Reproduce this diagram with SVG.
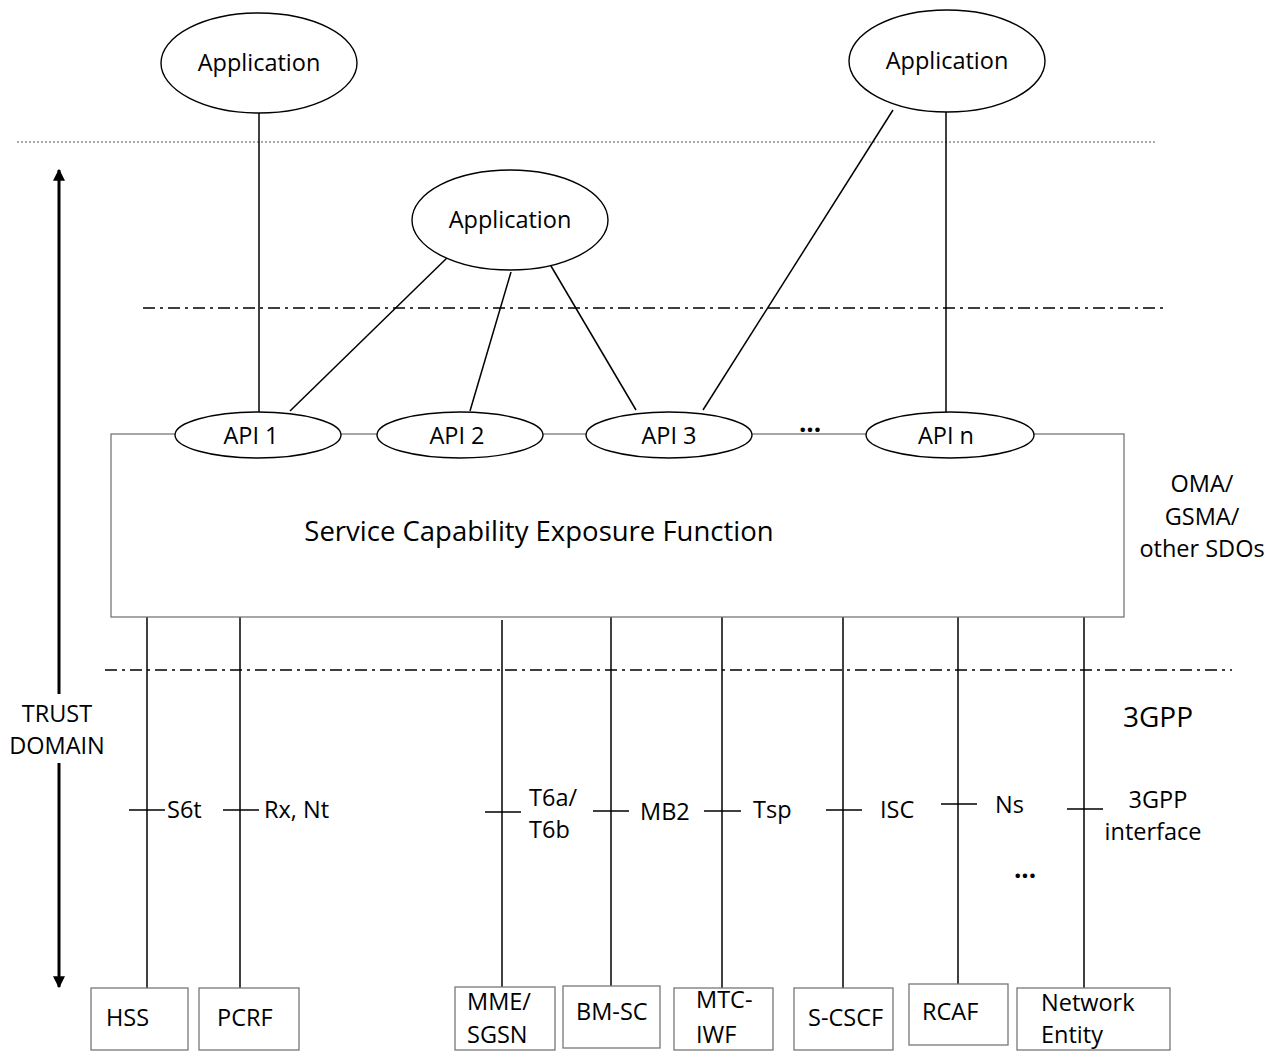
<svg xmlns="http://www.w3.org/2000/svg" width="1277" height="1053" viewBox="0 0 1277 1053">
<defs>
<style>
text{font-family:"Open Sans","Noto Sans",sans-serif;fill:#000}
.t22{font-size:23.5px}
.t21{font-size:23.5px}
.dots{font-size:26px;font-weight:bold}
.app{fill:#fff;stroke:#000;stroke-width:1.4}
.box{fill:#fff;stroke:#777;stroke-width:1.3}
.ln{stroke:#000;stroke-width:1.5;fill:none}
.dd{stroke:#000;stroke-width:1.6;stroke-dasharray:12 5 3 5;fill:none}
</style>
<marker id="ah" viewBox="0 0 10 10" refX="9" refY="5" markerWidth="4" markerHeight="4" orient="auto-start-reverse" markerUnits="strokeWidth">
<path d="M0,0 L10,5 L0,10 Z" fill="#000"/>
</marker>
</defs>
<rect width="1277" height="1053" fill="#fff"/>

<g id="boundaries">
<line x1="17" y1="142" x2="1155" y2="142" stroke="#555" stroke-width="1" stroke-dasharray="2 2"/>
<line class="dd" x1="143" y1="308" x2="1167" y2="308"/>
<line class="dd" x1="105" y1="670" x2="1232" y2="670"/>
</g>

<g id="trust-domain">
<line x1="59" y1="170" x2="59" y2="694" stroke="#000" stroke-width="3" marker-start="url(#ah)"/>
<line x1="59" y1="763" x2="59" y2="987" stroke="#000" stroke-width="3" marker-end="url(#ah)"/>
<text class="t21" x="57" y="722" text-anchor="middle">TRUST</text>
<text class="t21" x="57" y="754" text-anchor="middle">DOMAIN</text>
</g>

<g id="connectors">
<line class="ln" x1="259" y1="113" x2="259" y2="413"/>
<line class="ln" x1="450" y1="255" x2="290" y2="411"/>
<line class="ln" x1="511" y1="272" x2="470" y2="411"/>
<line class="ln" x1="551" y1="266" x2="636" y2="410"/>
<line class="ln" x1="893" y1="110" x2="703" y2="410"/>
<line class="ln" x1="946" y1="112" x2="946" y2="413"/>
<line class="ln" x1="147" y1="617" x2="147" y2="988"/>
<line class="ln" x1="240" y1="617" x2="240" y2="988"/>
<line class="ln" x1="502" y1="620" x2="502" y2="987"/>
<line class="ln" x1="611" y1="617" x2="611" y2="986"/>
<line class="ln" x1="722" y1="617" x2="722" y2="988"/>
<line class="ln" x1="843" y1="617" x2="843" y2="988"/>
<line class="ln" x1="958" y1="612" x2="958" y2="984"/>
<line class="ln" x1="1084" y1="617" x2="1084" y2="988"/>
<line class="ln" x1="129" y1="810" x2="165" y2="810"/>
<line class="ln" x1="223" y1="810" x2="259" y2="810"/>
<line class="ln" x1="485" y1="812" x2="521" y2="812"/>
<line class="ln" x1="593" y1="811" x2="629" y2="811"/>
<line class="ln" x1="704" y1="811" x2="741" y2="811"/>
<line class="ln" x1="826" y1="810" x2="862" y2="810"/>
<line class="ln" x1="941" y1="804" x2="977" y2="804"/>
<line class="ln" x1="1067" y1="809" x2="1103" y2="809"/>
</g>

<g id="interface-labels">
<text class="t21" x="167" y="818">S6t</text>
<text class="t21" x="264" y="818">Rx, Nt</text>
<text class="t21" x="529" y="806">T6a/</text>
<text class="t21" x="529" y="838">T6b</text>
<text class="t21" x="640" y="820">MB2</text>
<text class="t21" x="753" y="818">Tsp</text>
<text class="t21" x="880" y="818">ISC</text>
<text class="t21" x="995" y="813">Ns</text>
<text class="t21" x="1158" y="808" text-anchor="middle">3GPP</text>
<text class="t21" x="1153" y="840" text-anchor="middle">interface</text>
<text class="dots" x="1025" y="878" text-anchor="middle">...</text>
</g>

<g id="app1">
<ellipse class="app" cx="259" cy="63" rx="98" ry="50"/>
<text class="t22" x="259" y="71" text-anchor="middle">Application</text>
</g>
<g id="app2">
<ellipse class="app" cx="510" cy="220" rx="98" ry="50"/>
<text class="t22" x="510" y="228" text-anchor="middle">Application</text>
</g>
<g id="app3">
<ellipse class="app" cx="947" cy="61" rx="98" ry="51"/>
<text class="t22" x="947" y="69" text-anchor="middle">Application</text>
</g>

<g id="scef">
<rect class="box" x="111" y="434" width="1013" height="183"/>
<text x="539" y="541" font-size="27.5" text-anchor="middle">Service Capability Exposure Function</text>
<text class="dots" x="810" y="432" text-anchor="middle">...</text>
</g>
<g id="api1">
<ellipse class="app" cx="258" cy="435" rx="83" ry="23"/>
<text class="t21" x="251" y="444" text-anchor="middle">API 1</text>
</g>
<g id="api2">
<ellipse class="app" cx="460" cy="435" rx="83" ry="23"/>
<text class="t21" x="457" y="444" text-anchor="middle">API 2</text>
</g>
<g id="api3">
<ellipse class="app" cx="669" cy="435" rx="83" ry="23"/>
<text class="t21" x="669" y="444" text-anchor="middle">API 3</text>
</g>
<g id="apin">
<ellipse class="app" cx="950" cy="435" rx="84" ry="23"/>
<text class="t21" x="946" y="444" text-anchor="middle">API n</text>
</g>

<g id="sdo-label">
<text class="t21" x="1202" y="492" text-anchor="middle">OMA/</text>
<text class="t21" x="1202" y="525" text-anchor="middle">GSMA/</text>
<text class="t21" x="1202" y="557" text-anchor="middle">other SDOs</text>
</g>
<g id="3gpp-label">
<text x="1158" y="727" font-size="28" text-anchor="middle">3GPP</text>
</g>

<g id="hss">
<rect class="box" x="91" y="988" width="97" height="62"/>
<text class="t21" x="106" y="1026">HSS</text>
</g>
<g id="pcrf">
<rect class="box" x="199" y="988" width="100" height="62"/>
<text class="t21" x="217" y="1026">PCRF</text>
</g>
<g id="mme">
<rect class="box" x="455" y="987" width="100" height="63"/>
<text class="t21" x="467" y="1010">MME/</text>
<text class="t21" x="467" y="1043">SGSN</text>
</g>
<g id="bmsc">
<rect class="box" x="563" y="986" width="97" height="62"/>
<text class="t21" x="576" y="1020">BM-SC</text>
</g>
<g id="mtciwf">
<rect class="box" x="674" y="988" width="99" height="62"/>
<text class="t21" x="696" y="1008">MTC-</text>
<text class="t21" x="696" y="1043">IWF</text>
</g>
<g id="scscf">
<rect class="box" x="794" y="988" width="99" height="62"/>
<text class="t21" x="808" y="1026">S-CSCF</text>
</g>
<g id="rcaf">
<rect class="box" x="909" y="984" width="99" height="61"/>
<text class="t21" x="922" y="1020">RCAF</text>
</g>
<g id="netentity">
<rect class="box" x="1017" y="988" width="153" height="62"/>
<text class="t21" x="1041" y="1011">Network</text>
<text class="t21" x="1041" y="1043">Entity</text>
</g>
</svg>
